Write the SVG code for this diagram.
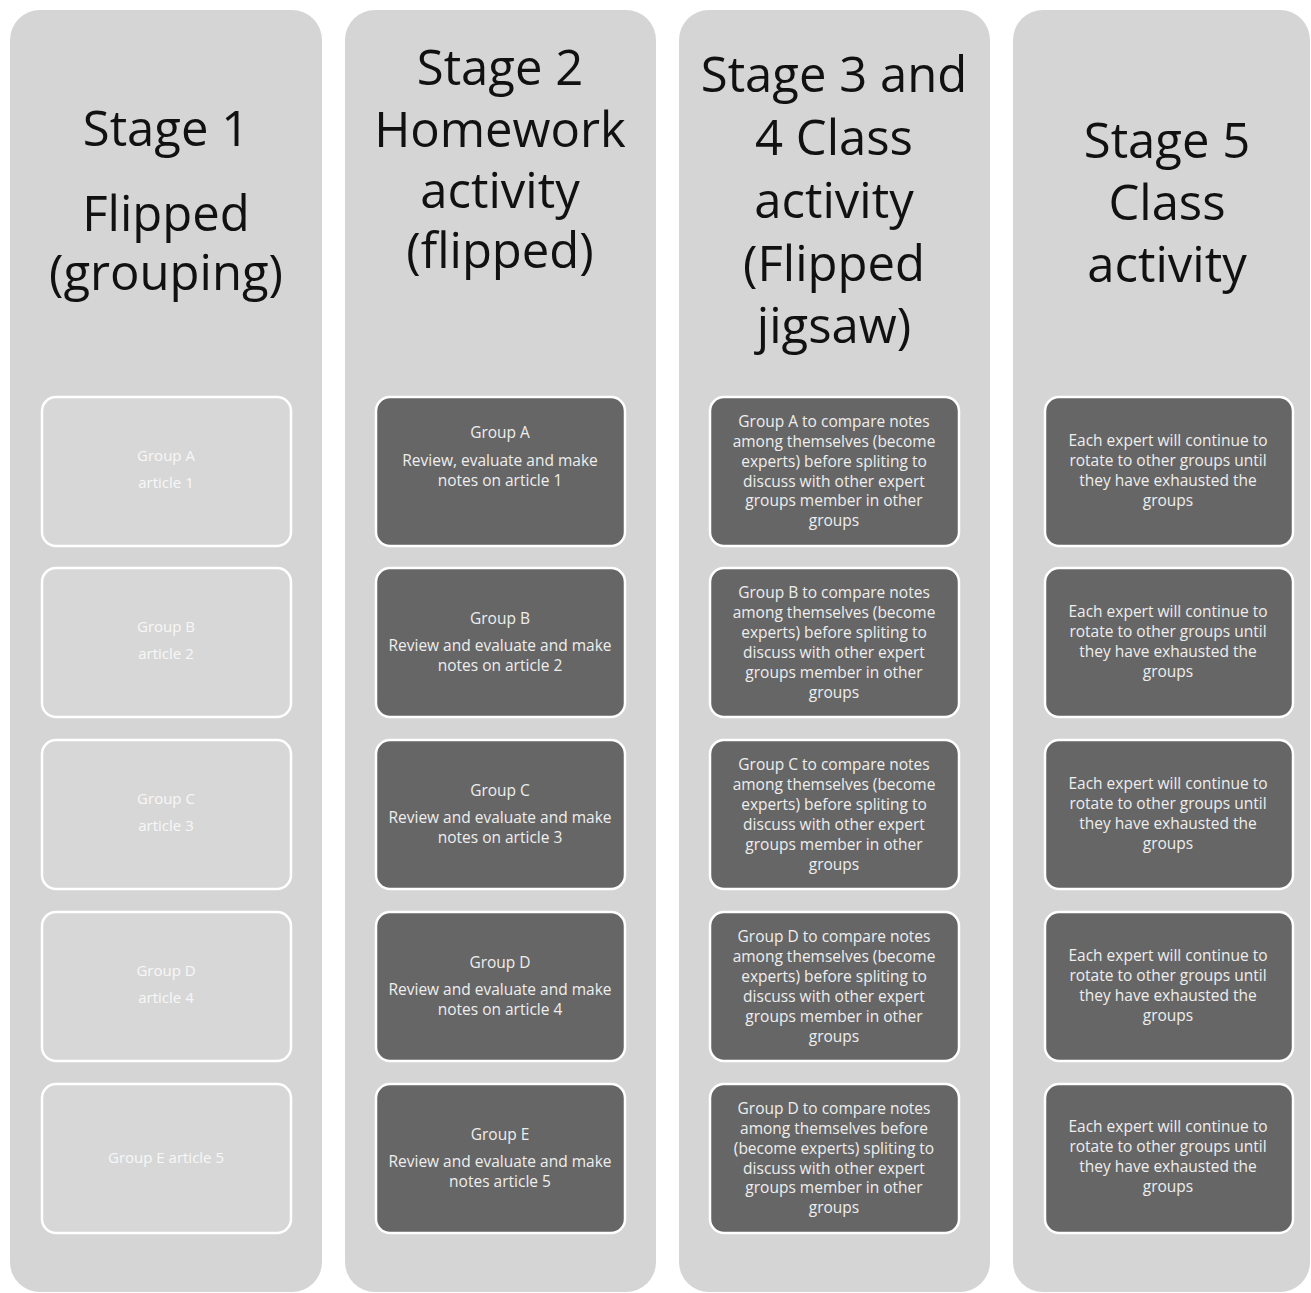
<svg xmlns="http://www.w3.org/2000/svg" width="1311" height="1293" viewBox="0 0 1311 1293">
<style>
.col{fill:#d5d5d5}
.bl{fill:#d7d7d7;stroke:#ffffff;stroke-width:2.5}
.bd{fill:#666666;stroke:#ffffff;stroke-width:2.5}
.t{font-family:"Open Sans","Liberation Sans",sans-serif;font-size:49px;fill:#111111;text-anchor:middle}
.s{font-family:"Open Sans","Liberation Sans",sans-serif;font-size:15.5px;fill:#eeeeee;text-anchor:middle}
.sl{font-family:"Open Sans","Liberation Sans",sans-serif;font-size:15px;fill:#f7f7f7;text-anchor:middle}
</style>
<rect width="1311" height="1293" fill="#ffffff"/>
<g id="stage1">
<rect class="col" x="10" y="10" width="312" height="1282" rx="30"/>
<text class="t" x="166" y="146">Stage 1</text>
<text class="t" x="166" y="231">Flipped</text>
<text class="t" x="166" y="290">(grouping)</text>
</g>
<g id="stage2">
<rect class="col" x="345" y="10" width="311" height="1282" rx="30"/>
<text class="t" x="500" y="85">Stage 2</text>
<text class="t" x="500" y="147">Homework</text>
<text class="t" x="500" y="208">activity</text>
<text class="t" x="500" y="268">(flipped)</text>
</g>
<g id="stage3">
<rect class="col" x="679" y="10" width="311" height="1282" rx="30"/>
<text class="t" x="834" y="92">Stage 3 and</text>
<text class="t" x="834" y="155">4 Class</text>
<text class="t" x="834" y="218">activity</text>
<text class="t" x="834" y="281">(Flipped</text>
<text class="t" x="834" y="343">jigsaw)</text>
</g>
<g id="stage5">
<rect class="col" x="1013" y="10" width="297" height="1282" rx="30"/>
<text class="t" x="1167" y="158">Stage 5</text>
<text class="t" x="1167" y="220">Class</text>
<text class="t" x="1167" y="282">activity</text>
</g>

<g id="s1-a"><rect class="bl" x="42" y="397" width="249" height="149" rx="14"/>
<text class="sl" x="166" y="461">Group A</text><text class="sl" x="166" y="488">article 1</text></g>
<g id="s1-b"><rect class="bl" x="42" y="568" width="249" height="149" rx="14"/>
<text class="sl" x="166" y="632">Group B</text><text class="sl" x="166" y="659">article 2</text></g>
<g id="s1-c"><rect class="bl" x="42" y="740" width="249" height="149" rx="14"/>
<text class="sl" x="166" y="804">Group C</text><text class="sl" x="166" y="831">article 3</text></g>
<g id="s1-d"><rect class="bl" x="42" y="912" width="249" height="149" rx="14"/>
<text class="sl" x="166" y="976">Group D</text><text class="sl" x="166" y="1003">article 4</text></g>
<g id="s1-e"><rect class="bl" x="42" y="1084" width="249" height="149" rx="14"/>
<text class="sl" x="166" y="1163">Group E article 5</text></g>

<g id="s2-a"><rect class="bd" x="376" y="397" width="249" height="149" rx="14"/>
<text class="s" x="500" y="438">Group A</text><text class="s" x="500" y="466">Review, evaluate and make</text><text class="s" x="500" y="486">notes on article 1</text></g>
<g id="s2-b"><rect class="bd" x="376" y="568" width="249" height="149" rx="14"/>
<text class="s" x="500" y="624">Group B</text><text class="s" x="500" y="651">Review and evaluate and make</text><text class="s" x="500" y="671">notes on article 2</text></g>
<g id="s2-c"><rect class="bd" x="376" y="740" width="249" height="149" rx="14"/>
<text class="s" x="500" y="796">Group C</text><text class="s" x="500" y="823">Review and evaluate and make</text><text class="s" x="500" y="843">notes on article 3</text></g>
<g id="s2-d"><rect class="bd" x="376" y="912" width="249" height="149" rx="14"/>
<text class="s" x="500" y="968">Group D</text><text class="s" x="500" y="995">Review and evaluate and make</text><text class="s" x="500" y="1015">notes on article 4</text></g>
<g id="s2-e"><rect class="bd" x="376" y="1084" width="249" height="149" rx="14"/>
<text class="s" x="500" y="1140">Group E</text><text class="s" x="500" y="1167">Review and evaluate and make</text><text class="s" x="500" y="1187">notes article 5</text></g>

<g id="s3-a"><rect class="bd" x="710" y="397" width="249" height="149" rx="14"/>
<text class="s" x="834" y="427">Group A  to compare notes</text><text class="s" x="834" y="447">among themselves (become</text><text class="s" x="834" y="467">experts)  before  spliting to</text><text class="s" x="834" y="487">discuss with other expert</text><text class="s" x="834" y="506">groups member in other</text><text class="s" x="834" y="526">groups</text></g>
<g id="s3-b"><rect class="bd" x="710" y="568" width="249" height="149" rx="14"/>
<text class="s" x="834" y="598">Group B to compare notes</text><text class="s" x="834" y="618">among themselves (become</text><text class="s" x="834" y="638">experts)  before  spliting to</text><text class="s" x="834" y="658">discuss with other expert</text><text class="s" x="834" y="678">groups member in other</text><text class="s" x="834" y="698">groups</text></g>
<g id="s3-c"><rect class="bd" x="710" y="740" width="249" height="149" rx="14"/>
<text class="s" x="834" y="770">Group C to compare notes</text><text class="s" x="834" y="790">among themselves (become</text><text class="s" x="834" y="810">experts) before  spliting to</text><text class="s" x="834" y="830">discuss with other expert</text><text class="s" x="834" y="850">groups member in other</text><text class="s" x="834" y="870">groups</text></g>
<g id="s3-d"><rect class="bd" x="710" y="912" width="249" height="149" rx="14"/>
<text class="s" x="834" y="942">Group D to compare notes</text><text class="s" x="834" y="962">among themselves (become</text><text class="s" x="834" y="982">experts)  before  spliting to</text><text class="s" x="834" y="1002">discuss with other expert</text><text class="s" x="834" y="1022">groups member in other</text><text class="s" x="834" y="1042">groups</text></g>
<g id="s3-e"><rect class="bd" x="710" y="1084" width="249" height="149" rx="14"/>
<text class="s" x="834" y="1114">Group D to compare notes</text><text class="s" x="834" y="1134">among themselves before</text><text class="s" x="834" y="1154">(become  experts) spliting to</text><text class="s" x="834" y="1174">discuss with other expert</text><text class="s" x="834" y="1193">groups member in other</text><text class="s" x="834" y="1213">groups</text></g>

<g id="s5-a"><rect class="bd" x="1045" y="397" width="248" height="149" rx="14"/>
<text class="s" x="1168" y="446">Each expert will continue to</text><text class="s" x="1168" y="466">rotate to other groups  until</text><text class="s" x="1168" y="486">they have exhausted the</text><text class="s" x="1168" y="506">groups</text></g>
<g id="s5-b"><rect class="bd" x="1045" y="568" width="248" height="149" rx="14"/>
<text class="s" x="1168" y="617">Each expert will continue to</text><text class="s" x="1168" y="637">rotate to other groups  until</text><text class="s" x="1168" y="657">they have exhausted the</text><text class="s" x="1168" y="677">groups</text></g>
<g id="s5-c"><rect class="bd" x="1045" y="740" width="248" height="149" rx="14"/>
<text class="s" x="1168" y="789">Each expert will continue to</text><text class="s" x="1168" y="809">rotate to other groups  until</text><text class="s" x="1168" y="829">they have exhausted the</text><text class="s" x="1168" y="849">groups</text></g>
<g id="s5-d"><rect class="bd" x="1045" y="912" width="248" height="149" rx="14"/>
<text class="s" x="1168" y="961">Each expert will continue to</text><text class="s" x="1168" y="981">rotate to other groups  until</text><text class="s" x="1168" y="1001">they have exhausted the</text><text class="s" x="1168" y="1021">groups</text></g>
<g id="s5-e"><rect class="bd" x="1045" y="1084" width="248" height="149" rx="14"/>
<text class="s" x="1168" y="1132">Each expert will continue to</text><text class="s" x="1168" y="1152">rotate to other groups  until</text><text class="s" x="1168" y="1172">they have exhausted the</text><text class="s" x="1168" y="1192">groups</text></g>

<g id="connectors"></g>
</svg>
